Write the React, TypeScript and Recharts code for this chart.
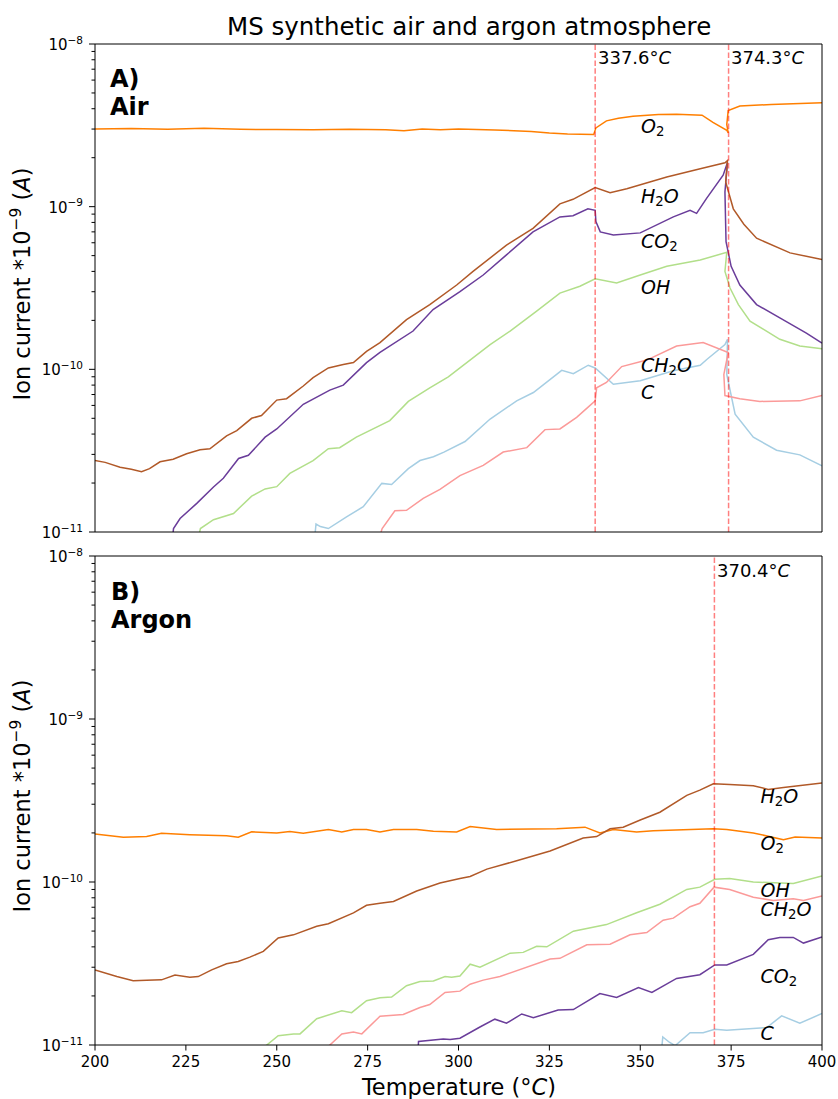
import { LineChart, Line, XAxis, YAxis, ReferenceLine } from 'recharts'

type Pt = [number, number]

// temperature (°C), ion current (A)
const airC: Pt[] = [
  [260.5, 9.5e-12], [260.8, 1.12e-11], [262, 1.08e-11], [264.2, 1.05e-11], [269.2, 1.24e-11], [273.8, 1.43e-11],
  [278.9, 1.99e-11], [281.6, 1.96e-11], [286.2, 2.45e-11], [289.4, 2.75e-11], [293.1, 2.9e-11], [296, 3.1e-11],
  [301.8, 3.6e-11], [308.7, 4.95e-11], [316, 6.4e-11], [320.6, 7.2e-11], [328.4, 9.86e-11], [331.6, 9.4e-11],
  [335.7, 1.06e-10], [337.6, 1.02e-10], [342.6, 8.1e-11], [350, 8.5e-11], [359.1, 9.8e-11], [366.5, 1.06e-10],
  [368.3, 1.15e-10], [373.3, 1.42e-10], [374, 1.53e-10], [373.8, 9.3e-11], [376.1, 5.3e-11], [381.1, 3.83e-11],
  [387.5, 3.18e-11], [393.9, 2.98e-11], [400, 2.55e-11],
]
const airOH: Pt[] = [
  [228.7, 9.8e-12], [229, 1.05e-11], [232.6, 1.19e-11], [238.1, 1.3e-11], [243.1, 1.66e-11], [246.8, 1.84e-11],
  [250, 1.9e-11], [253.6, 2.29e-11], [260, 2.75e-11], [264.2, 3.25e-11], [267.3, 3.3e-11], [271.9, 3.83e-11],
  [281.1, 4.84e-11], [286.2, 6.35e-11], [292.1, 7.7e-11], [297.2, 9.0e-11], [300.4, 1.02e-10], [308.7, 1.42e-10],
  [314.2, 1.72e-10], [321.5, 2.28e-10], [327.9, 2.94e-10], [333.4, 3.24e-10], [337.6, 3.6e-10], [343.5, 3.4e-10],
  [350, 3.8e-10], [357.3, 4.3e-10], [366.5, 4.7e-10], [373.8, 5.24e-10], [373.3, 4.0e-10], [374.7, 3.16e-10],
  [377, 2.5e-10], [380.2, 1.98e-10], [388.4, 1.53e-10], [393.9, 1.39e-10], [400, 1.34e-10],
]
const airCH2O: Pt[] = [
  [278.4, 9.5e-12], [279, 1.05e-11], [282.5, 1.35e-11], [285.7, 1.36e-11], [290.3, 1.61e-11], [294.9, 1.83e-11],
  [300.4, 2.22e-11], [306.8, 2.57e-11], [312.3, 3.1e-11], [318.8, 3.3e-11], [323.8, 4.26e-11], [327.9, 4.3e-11],
  [332.5, 5.07e-11], [337.6, 6.4e-11], [338, 7.7e-11], [340.7, 8.3e-11], [344.9, 1.04e-10], [351.8, 1.14e-10],
  [360, 1.39e-10], [367.3, 1.46e-10], [374.2, 1.27e-10], [373, 9.3e-11], [373.3, 6.9e-11], [377.4, 6.6e-11],
  [382.9, 6.35e-11], [393.9, 6.4e-11], [400, 6.9e-11],
]
const airO2: Pt[] = [
  [200, 3.0e-9], [210, 3.02e-9], [220, 2.99e-9], [230, 3.03e-9], [240, 2.99e-9], [250, 2.98e-9], [260, 2.97e-9],
  [270, 2.99e-9], [280, 2.97e-9], [285, 2.93e-9], [290, 3.0e-9], [295, 2.97e-9], [300, 3.0e-9], [310, 2.96e-9],
  [320, 2.9e-9], [325, 2.84e-9], [330, 2.8e-9], [337.2, 2.78e-9], [337.8, 3.05e-9], [340.7, 3.37e-9], [344, 3.5e-9],
  [348, 3.6e-9], [355, 3.68e-9], [360, 3.7e-9], [367, 3.65e-9], [370, 3.3e-9], [373.8, 2.95e-9], [374.2, 2.84e-9],
  [373.8, 3.2e-9], [374.2, 3.9e-9], [377.4, 4.16e-9], [386, 4.25e-9], [400, 4.36e-9],
]
const airCO2: Pt[] = [
  [221.4, 9.5e-12], [221.6, 1.05e-11], [223.4, 1.21e-11], [228, 1.5e-11], [232.6, 1.89e-11], [235.3, 2.14e-11],
  [239.5, 2.83e-11], [242.2, 2.96e-11], [246.8, 3.83e-11], [250, 4.3e-11], [257.3, 6.1e-11], [264.6, 7.45e-11],
  [268.3, 8.0e-11], [274.7, 1.1e-10], [278.4, 1.27e-10], [287.5, 1.72e-10], [293, 2.33e-10], [300.4, 3.0e-10],
  [306.8, 3.8e-10], [313.2, 5.05e-10], [320.5, 7.0e-10], [327.9, 8.65e-10], [331.5, 8.8e-10], [335.6, 9.7e-10],
  [337.6, 9.5e-10], [337.8, 8.1e-10], [339, 7.0e-10], [342.6, 6.7e-10], [350, 6.9e-10], [359.1, 8.65e-10],
  [363.7, 9.5e-10], [365.5, 9.1e-10], [368.2, 1.12e-9], [372.8, 1.56e-9], [374, 1.87e-9], [373.3, 1.23e-9],
  [373.6, 6.1e-10], [375, 4.3e-10], [377.4, 3.3e-10], [382, 2.5e-10], [388.4, 2.07e-10], [395.7, 1.67e-10],
  [400, 1.45e-10],
]
const airH2O: Pt[] = [
  [200, 2.75e-11], [202.8, 2.68e-11], [206.9, 2.5e-11], [210, 2.43e-11], [212.8, 2.35e-11], [215, 2.45e-11],
  [217.9, 2.7e-11], [221.5, 2.8e-11], [225.2, 3.03e-11], [228.9, 3.2e-11], [231.6, 3.25e-11], [236.2, 3.9e-11],
  [239, 4.2e-11], [243.1, 5.0e-11], [245.8, 5.2e-11], [250, 6.47e-11], [252.7, 6.6e-11], [257.3, 7.9e-11],
  [260, 8.9e-11], [264.2, 1.02e-10], [268.3, 1.07e-10], [271.1, 1.1e-10], [274.7, 1.29e-10], [278.4, 1.46e-10],
  [285.7, 2.02e-10], [292.1, 2.5e-10], [299.5, 3.3e-10], [304, 4.0e-10], [313.2, 5.8e-10], [320.5, 7.35e-10],
  [327.9, 1.04e-9], [331.5, 1.11e-9], [337.6, 1.31e-9], [341.7, 1.22e-9], [346.3, 1.29e-9], [357.3, 1.52e-9],
  [366.5, 1.71e-9], [373.3, 1.86e-9], [374, 1.92e-9], [373.5, 1.42e-9], [375.6, 9.7e-10], [378.5, 7.8e-10],
  [382, 6.4e-10], [391.2, 5.2e-10], [400, 4.73e-10],
]

const argonC: Pt[] = [
  [355.9, 9.5e-12], [356.2, 1.12e-11], [358, 1.04e-11], [359.6, 9.9e-12], [363.7, 1.19e-11], [367.3, 1.19e-11],
  [370.5, 1.25e-11], [373.8, 1.23e-11], [384.8, 1.28e-11], [388.9, 1.51e-11], [393.9, 1.36e-11], [400, 1.56e-11],
]
const argonOH: Pt[] = [
  [246.8, 9.8e-12], [250.4, 1.14e-11], [254.6, 1.17e-11], [256.4, 1.17e-11], [261, 1.45e-11], [267.9, 1.62e-11],
  [270.6, 1.58e-11], [274.7, 1.87e-11], [278.4, 1.95e-11], [281.6, 1.97e-11], [285.7, 2.31e-11], [289.4, 2.45e-11],
  [293.1, 2.47e-11], [296.3, 2.63e-11], [298.1, 2.6e-11], [300.4, 2.65e-11], [303.2, 3.13e-11], [305.9, 3.0e-11],
  [314.2, 3.66e-11], [317.8, 3.7e-11], [321.5, 4.03e-11], [324.3, 4.0e-11], [331.6, 4.99e-11], [340.7, 5.48e-11],
  [349, 6.47e-11], [355.4, 7.3e-11], [362.8, 9.0e-11], [366.4, 9.3e-11], [370.5, 1.04e-10], [374.6, 1.05e-10],
  [381.1, 1.0e-10], [392.1, 9.8e-11], [400, 1.09e-10],
]
const argonCH2O: Pt[] = [
  [264.2, 9.8e-12], [267.9, 1.17e-11], [271.1, 1.2e-11], [273.4, 1.17e-11], [278.4, 1.5e-11], [284.8, 1.54e-11],
  [289.4, 1.7e-11], [292.1, 1.77e-11], [296.3, 2.1e-11], [300.4, 2.14e-11], [303.2, 2.36e-11], [306.8, 2.5e-11],
  [311.4, 2.63e-11], [325.2, 3.37e-11], [327.9, 3.4e-11], [335.3, 4.12e-11], [341.7, 4.15e-11], [347.2, 4.75e-11],
  [351.8, 4.9e-11], [356.3, 5.83e-11], [359.1, 6.0e-11], [363.7, 7.05e-11], [366.4, 7.4e-11], [370.3, 9.3e-11],
  [374.6, 9.0e-11], [381.1, 8.07e-11], [386.6, 7.7e-11], [392.1, 7.9e-11], [394.9, 7.7e-11], [400, 8.2e-11],
]
const argonO2: Pt[] = [
  [200, 1.97e-10], [207.8, 1.88e-10], [214.2, 1.9e-10], [218.3, 1.99e-10], [226.1, 1.95e-10], [236.2, 1.92e-10],
  [239.4, 1.88e-10], [243.1, 2.03e-10], [250, 2.0e-10], [253.6, 2.04e-10], [257.3, 1.99e-10], [264.2, 2.1e-10],
  [267.9, 2.03e-10], [271.1, 2.1e-10], [274.7, 2.1e-10], [278.4, 2.03e-10], [282.1, 2.1e-10], [288.5, 2.1e-10],
  [293.1, 2.05e-10], [299.5, 2.03e-10], [303.2, 2.19e-10], [310.5, 2.1e-10], [327, 2.12e-10], [334.8, 2.17e-10],
  [338.9, 2.0e-10], [342.6, 2.1e-10], [349, 2.03e-10], [353.6, 2.06e-10], [370.1, 2.12e-10], [373.8, 2.1e-10],
  [381.1, 2.0e-10], [389.4, 1.82e-10], [392.6, 1.89e-10], [400, 1.86e-10],
]
const argonCO2: Pt[] = [
  [288.9, 9.5e-12], [289, 1.05e-11], [295.8, 1.09e-11], [297.7, 1.08e-11], [300.4, 1.1e-11], [305.9, 1.29e-11],
  [310, 1.44e-11], [313.2, 1.36e-11], [317.4, 1.55e-11], [320.6, 1.47e-11], [327.4, 1.64e-11], [331.6, 1.65e-11],
  [338.9, 2.07e-11], [343.5, 1.96e-11], [349.5, 2.25e-11], [353.2, 2.1e-11], [360, 2.56e-11], [366.4, 2.7e-11],
  [370.5, 3.1e-11], [373.8, 3.1e-11], [381.1, 3.6e-11], [385.2, 4.42e-11], [388.4, 4.57e-11], [392.1, 4.57e-11],
  [394.9, 4.22e-11], [400, 4.6e-11],
]
const argonH2O: Pt[] = [
  [200, 2.89e-11], [206, 2.63e-11], [210.5, 2.48e-11], [214.2, 2.5e-11], [218.3, 2.51e-11], [222, 2.69e-11],
  [226.1, 2.6e-11], [228.4, 2.63e-11], [232.1, 2.89e-11], [236.2, 3.15e-11], [239.4, 3.25e-11], [242.6, 3.46e-11],
  [246.3, 3.75e-11], [250.4, 4.53e-11], [254.6, 4.74e-11], [261, 5.35e-11], [264.2, 5.55e-11], [271.1, 6.47e-11],
  [274.7, 7.2e-11], [278.4, 7.4e-11], [282.1, 7.6e-11], [288.5, 8.8e-11], [294.9, 9.85e-11], [300.4, 1.05e-10],
  [303.2, 1.08e-10], [307.8, 1.2e-10], [316, 1.35e-10], [325.2, 1.55e-10], [334.3, 1.86e-10], [338, 1.9e-10],
  [341.7, 2.12e-10], [345.3, 2.17e-10], [350, 2.4e-10], [355.4, 2.68e-10], [362.8, 3.4e-10], [366.4, 3.66e-10],
  [370.1, 4.0e-10], [374.6, 3.97e-10], [381.1, 3.9e-10], [385.2, 3.7e-10], [389.4, 3.8e-10], [400, 4.05e-10],
]

const xTicks = [200, 225, 250, 275, 300, 325, 350, 375, 400]
const decades = [-11, -10, -9, -8]
const yTicks = decades.flatMap(e => (e === -8 ? [1] : [1, 2, 3, 4, 5, 6, 7, 8, 9]).map(m => m * Math.pow(10, e)))

const airEvents = [337.6, 374.3]
const argonEvents = [370.4]

const COLORS = { C: '#a6cee3', OH: '#b2df8a', CH2O: '#fb9a99', O2: '#ff7f00', CO2: '#6a3d9a', H2O: '#b15928' }

const toRows = (pts: Pt[]) => pts.map(([t, v]) => ({ t, v }))

const airSeries = [
  { name: 'C', pts: airC }, { name: 'OH', pts: airOH }, { name: 'CH2O', pts: airCH2O },
  { name: 'O2', pts: airO2 }, { name: 'CO2', pts: airCO2 }, { name: 'H2O', pts: airH2O },
]
const argonSeries = [
  { name: 'C', pts: argonC }, { name: 'OH', pts: argonOH }, { name: 'CH2O', pts: argonCH2O },
  { name: 'O2', pts: argonO2 }, { name: 'CO2', pts: argonCO2 }, { name: 'H2O', pts: argonH2O },
]

const FONT = '"DejaVu Sans", sans-serif'

const LogTick = (props: any) => {
  const { x, y, payload } = props
  const lg = Math.log10(payload.value)
  const e = Math.round(lg)
  const major = Math.abs(lg - e) < 1e-6
  const len = major ? 6 : 3.5
  return (
    <g>
      <line x1={x - len} x2={x} y1={y} y2={y} stroke="#000" strokeWidth={1} />
      {major && (
        <text x={x - 12} y={y + 6} textAnchor="end" fontSize={15} fill="#000" fontFamily={FONT}>
          10<tspan dy={-6.5} fontSize={10.5}>{'\u2212' + Math.abs(e)}</tspan>
        </text>
      )}
    </g>
  )
}

// formula label: digits become subscripts, letters italic
const Chem = ({ x, y, text }: { x: number; y: number; text: string }) => {
  const parts: any[] = []
  let low = false
  text.split('').forEach((ch, i) => {
    const digit = /\d/.test(ch)
    const dy = digit === low ? 0 : digit ? 3 : -3
    low = digit
    parts.push(
      <tspan key={i} dy={dy} fontSize={digit ? 13.3 : 19} fontStyle={digit ? 'normal' : 'italic'}>{ch}</tspan>
    )
  })
  return <text x={x} y={y} fontFamily={FONT} fill="#000">{parts}</text>
}

const Panel = ({ series, events, height, margin, xHeight, showLabels }: any) => (
  <LineChart width={838} height={height} margin={margin}>
    <XAxis
      type="number"
      dataKey="t"
      domain={[200, 400]}
      ticks={xTicks}
      interval={0}
      allowDataOverflow
      height={xHeight}
      tickSize={5.5}
      tickMargin={6}
      axisLine={{ stroke: '#000' }}
      tickLine={{ stroke: '#000' }}
      tick={showLabels ? { fontSize: 15, fill: '#000', fontFamily: FONT } : false}
    />
    <YAxis
      type="number"
      scale="log"
      domain={[1e-11, 1e-8]}
      allowDataOverflow
      ticks={yTicks}
      interval={0}
      width={95}
      tickSize={0}
      tickMargin={0}
      tickLine={false}
      axisLine={{ stroke: '#000' }}
      tick={<LogTick />}
    />
    {series.map((s: any) => (
      <Line
        key={s.name}
        data={toRows(s.pts)}
        dataKey="v"
        type="linear"
        stroke={(COLORS as any)[s.name]}
        strokeWidth={1.5}
        dot={false}
        activeDot={false}
        isAnimationActive={false}
      />
    ))}
    {events.map((t: number) => (
      <ReferenceLine key={t} x={t} stroke="#ff0000" strokeOpacity={0.5} strokeWidth={1.5} strokeDasharray="5.5 2.4" />
    ))}
    <ReferenceLine y={1e-8} stroke="#000" strokeWidth={1} />
    <ReferenceLine x={400} stroke="#000" strokeWidth={1} />
  </LineChart>
)

const TempNote = ({ x, y, value }: { x: number; y: number; value: string }) => (
  <text x={x} y={y} fontSize={18} fontFamily={FONT} fill="#000">
    {value}°<tspan fontStyle="italic">C</tspan>
  </text>
)

const YLabel = ({ cy }: { cy: number }) => (
  <text transform={`translate(30,${cy}) rotate(-90)`} textAnchor="middle" fontSize={22.5} fontFamily={FONT} fill="#000">
    Ion current *10<tspan dy={-9} fontSize={15.5}>{'\u22129'}</tspan>
    <tspan dy={9}> (</tspan><tspan fontStyle="italic">A</tspan>)
  </text>
)

export default function App() {
  return (
    <div style={{ position: 'absolute', left: 0, top: 0, width: 838, height: 1099, background: '#fff' }}>
      <div style={{ position: 'absolute', left: 0, top: 0 }}>
        <Panel series={airSeries} events={airEvents} height={545} xHeight={13}
          margin={{ top: 44, right: 16, left: 0, bottom: 0 }} showLabels={false} />
      </div>
      <div style={{ position: 'absolute', left: 0, top: 545 }}>
        <Panel series={argonSeries} events={argonEvents} height={554} xHeight={30}
          margin={{ top: 11, right: 16, left: 0, bottom: 24 }} showLabels />
      </div>
      <svg width={838} height={1099} style={{ position: 'absolute', left: 0, top: 0, pointerEvents: 'none' }}>
        <text x={227} y={35} fontSize={24.5} fontFamily={FONT} fill="#000">
          MS synthetic air and argon atmosphere
        </text>
        <YLabel cy={284} />
        <YLabel cy={796} />
        <text x={459} y={1095} textAnchor="middle" fontSize={22.5} fontFamily={FONT} fill="#000">
          Temperature (°<tspan fontStyle="italic">C</tspan>)
        </text>

        <text x={110} y={87} fontSize={24} fontWeight="bold" fontFamily={FONT} fill="#000">A)</text>
        <text x={110} y={115} fontSize={24} fontWeight="bold" fontFamily={FONT} fill="#000">Air</text>
        <text x={111} y={600} fontSize={24} fontWeight="bold" fontFamily={FONT} fill="#000">B)</text>
        <text x={111} y={628} fontSize={24} fontWeight="bold" fontFamily={FONT} fill="#000">Argon</text>

        <TempNote x={598} y={64} value="337.6" />
        <TempNote x={731} y={64} value="374.3" />
        <TempNote x={717} y={577} value="370.4" />

        <Chem x={641} y={133} text="O2" />
        <Chem x={641} y={202.5} text="H2O" />
        <Chem x={641} y={247.5} text="CO2" />
        <Chem x={641} y={294} text="OH" />
        <Chem x={641} y={371.5} text="CH2O" />
        <Chem x={641} y={399} text="C" />

        <Chem x={760.5} y={803} text="H2O" />
        <Chem x={760.5} y={850} text="O2" />
        <Chem x={760.5} y={896.5} text="OH" />
        <Chem x={760.5} y={916} text="CH2O" />
        <Chem x={760.5} y={982.5} text="CO2" />
        <Chem x={760.5} y={1040} text="C" />
      </svg>
    </div>
  )
}
